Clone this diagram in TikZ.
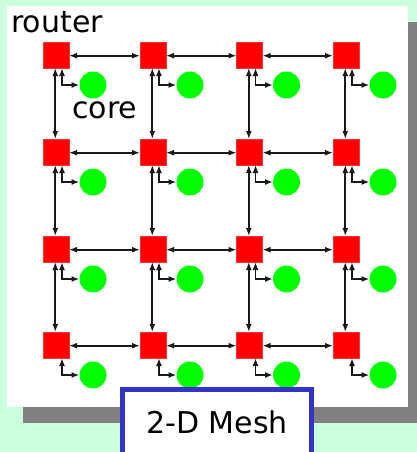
\documentclass[tikz,border=0pt]{standalone}
\usepackage{fontspec}
\setmainfont{DejaVu Sans}
\usetikzlibrary{arrows.meta}
\definecolor{bggreen}{RGB}{204,255,221}
\definecolor{shadowgray}{RGB}{128,128,128}
\definecolor{meshblue}{RGB}{51,51,204}
\begin{document}
\begin{tikzpicture}[x=1pt,y=-1pt,
  routerbox/.style={fill=red,draw=red!80!white,minimum size=26pt,inner sep=0pt,outer sep=0pt},
  corenode/.style={circle,fill=green,draw=none,minimum size=27pt,inner sep=0pt,outer sep=0pt},
  link/.style={{Latex[length=8pt,width=6pt]}-{Latex[length=8pt,width=6pt]},line width=1.7pt,black!90},
  bigtext/.style={font=\fontsize{30}{36}\selectfont,inner sep=0pt}]
\useasboundingbox (0,0) rectangle (417,452);
\fill[bggreen] (0,0) rectangle (417,452);
\fill[shadowgray] (23,22) rectangle (430,423);
\fill[white] (7,6) rectangle (408,407);
% routers and cores
\foreach \i/\x in {0/56,1/153,2/249.5,3/346}{
  \foreach \j/\y in {0/55,1/152,2/249,3/345}{
    \node[routerbox] (r-\i-\j) at (\x,\y) {};
    \node[corenode] (c-\i-\j) at (\x+37,\y+30) {};
  }
}
% horizontal links
\foreach \i [evaluate=\i as \n using int(\i+1)] in {0,1,2}{
  \foreach \j in {0,1,2,3}{
    \draw[link] ([yshift=-0.7pt]r-\i-\j.east) -- ([yshift=-0.7pt]r-\n-\j.west);
  }
}
% vertical links
\foreach \i in {0,1,2,3}{
  \foreach \j [evaluate=\j as \n using int(\j+1)] in {0,1,2}{
    \draw[link] ([xshift=-0.7pt]r-\i-\j.south) -- ([xshift=-0.7pt]r-\i-\n.north);
  }
}
% router-core links
\foreach \i in {0,1,2,3}{
  \foreach \j in {0,1,2,3}{
    \draw[link] ([xshift=6pt]r-\i-\j.south) |- (c-\i-\j.west);
  }
}
\node[bigtext,anchor=base west] (routerlabel) at (11,33) {router};
\node[bigtext,anchor=base west] (corelabel) at (72,118) {core};
\draw[meshblue,line width=5pt,fill=white] (122.5,389.5) rectangle (311.5,460);
\node[bigtext,anchor=base] (meshlabel) at (217,433) {2-D Mesh};
\end{tikzpicture}
\end{document}
